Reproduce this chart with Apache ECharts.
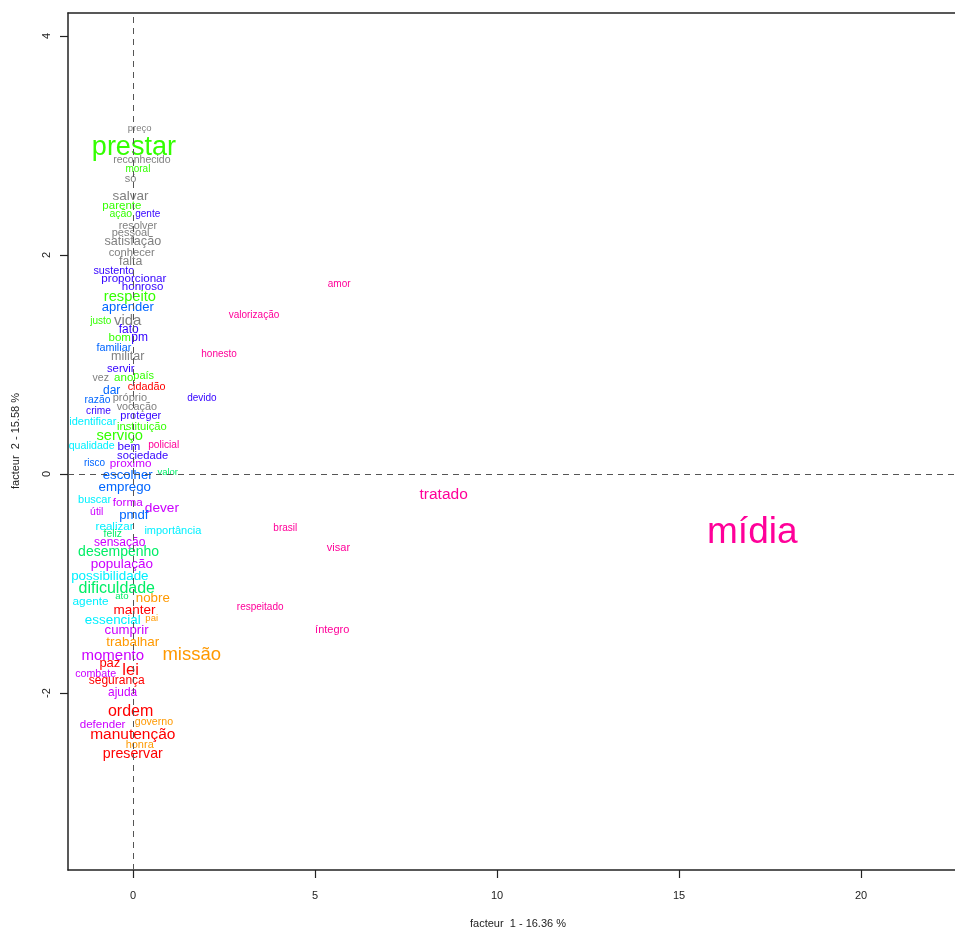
<!DOCTYPE html>
<html>
<head>
<meta charset="utf-8">
<script src="https://cdn.jsdelivr.net/npm/echarts@6/dist/echarts.min.js"></script>
<style>
html,body{margin:0;padding:0;background:#fff;}
#chart{width:955px;height:931px;}
</style>
</head>
<body>
<div id="chart"></div>
<script>
// ---- data ----
const words = ["preço","prestar","reconhecido","moral","só","salvar","parente","ação","gente","resolver",
"pessoal","satisfação","conhecer","falta","sustento","proporcionar","honroso","respeito","aprender","justo",
"vida","fato","bom","pm","familiar","militar","servir","vez","ano","país",
"cidadão","dar","razão","próprio","crime","vocação","devido","proteger","identificar","instituição",
"serviço","qualidade","bem","policial","sociedade","risco","proximo","escolher","valor","emprego",
"buscar","forma","dever","útil","pmdf","realizar","importância","feliz","sensação","desempenho",
"população","possibilidade","dificuldade","agente","ato","nobre","manter","pai","essencial","cumprir",
"trabalhar","missão","momento","paz","lei","combate","segurança","ajuda","ordem","defender",
"governo","manutenção","honra","preservar","amor","valorização","honesto","tratado","brasil","visar",
"respeitado","íntegro","mídia"];
const factor1 = [0.18,0.02,0.24,0.13,-0.07,-0.07,-0.31,-0.34,0.40,0.13,
-0.07,-0.01,-0.04,-0.07,-0.53,0.02,0.26,-0.09,-0.15,-0.89,
-0.15,-0.12,-0.37,0.18,-0.53,-0.15,-0.34,-0.89,-0.26,0.29,
0.37,-0.59,-0.98,-0.09,-0.95,0.10,1.89,0.21,-1.11,0.24,
-0.37,-1.14,-0.12,0.84,0.26,-1.06,-0.07,-0.15,0.95,-0.23,
-1.06,-0.15,0.79,-1.00,0.02,-0.51,1.09,-0.56,-0.37,-0.40,
-0.31,-0.64,-0.45,-1.17,-0.31,0.54,0.04,0.51,-0.56,-0.18,
-0.01,1.61,-0.56,-0.64,-0.07,-1.03,-0.45,-0.29,-0.07,-0.84,
0.57,-0.01,0.18,-0.01,5.66,3.32,2.36,8.53,4.18,5.64,
3.49,5.47,17.01];
const factor2 = [3.16,3.00,2.87,2.79,2.70,2.55,2.46,2.38,2.38,2.27,
2.21,2.13,2.03,1.95,1.86,1.79,1.72,1.63,1.53,1.40,
1.41,1.33,1.25,1.25,1.16,1.08,0.97,0.88,0.89,0.90,
0.80,0.77,0.68,0.70,0.58,0.62,0.70,0.54,0.48,0.44,
0.36,0.26,0.26,0.27,0.17,0.11,0.10,0.00,0.02,-0.11,
-0.23,-0.25,-0.30,-0.34,-0.37,-0.47,-0.51,-0.54,-0.62,-0.70,
-0.81,-0.92,-1.03,-1.16,-1.11,-1.13,-1.23,-1.31,-1.33,-1.42,
-1.53,-1.64,-1.65,-1.72,-1.78,-1.82,-1.88,-1.99,-2.16,-2.28,
-2.26,-2.37,-2.47,-2.55,1.74,1.46,1.10,-0.18,-0.49,-0.67,
-1.21,-1.42,-0.51];
// relative text size (cex-like weight)
const weight = [0.95,2.7,1.05,1.0,1.1,1.35,1.15,1.05,1.0,1.08,
1.1,1.26,1.12,1.23,1.08,1.16,1.15,1.47,1.3,1.0,
1.5,1.2,1.15,1.2,1.08,1.25,1.13,1.05,1.15,1.1,
1.08,1.2,1.03,1.1,1.02,1.08,1.0,1.1,1.1,1.12,
1.47,1.06,1.17,1.02,1.12,1.0,1.17,1.32,0.95,1.33,
1.1,1.17,1.37,1.04,1.32,1.16,1.1,1.03,1.2,1.4,
1.35,1.34,1.6,1.18,0.96,1.33,1.35,0.95,1.34,1.32,
1.34,1.85,1.5,1.3,1.65,1.07,1.2,1.19,1.6,1.16,
1.06,1.55,1.1,1.42,1.0,1.0,1.0,1.55,1.0,1.1,
1.0,1.1,3.7];
// class of each word
const wordClass = [0,3,0,3,0,0,3,3,7,0,
0,0,0,0,7,7,7,3,6,3,
0,7,3,7,6,0,7,0,3,3,
1,6,6,0,7,0,7,7,5,3,
3,5,7,9,7,6,8,6,4,6,
5,8,8,8,6,5,5,4,8,4,
8,5,4,5,4,2,1,2,5,8,
2,2,8,1,1,8,1,8,1,8,
2,1,2,1,9,9,9,9,9,9,
9,9,9];
const xTicks = [0,5,10,15,20];
const yTicks = [-2,0,2,4];
const xTitle = "facteur  1 - 16.36 %";
const yTitle = "facteur  2 - 15.58 %";

// ---- styles ----
const classColors = ["#808080","#FF0000","#FF9900","#33FF00","#00EE66","#00F0FF","#0066FF","#3300FF","#CC00FF","#FF0099"];
const FONT = "'Liberation Sans', Arial, Helvetica, sans-serif";
const FRAME = {color:'#222', width:1.5};

const chart = echarts.init(document.getElementById('chart'), null, {renderer:'canvas'});
const points = factor1.map((x,i)=>[x, factor2[i]]);

chart.setOption({
  animation:false,
  backgroundColor:'#fff',
  grid:{left:68, top:13, right:0, bottom:61, show:false},
  xAxis:[{type:'value', min:-1.79, max:22.58, position:'bottom',
    axisLine:{show:true, onZero:false, lineStyle:FRAME},
    axisTick:{show:true, inside:false, length:8, customValues:xTicks, lineStyle:{color:'#222', width:1.2}},
    axisLabel:{show:true, customValues:xTicks, margin:20, fontSize:11, color:'#222', fontFamily:FONT},
    splitLine:{show:false}},
   {type:'value', min:-1.79, max:22.58, position:'top',
    axisLine:{show:true, onZero:false, lineStyle:FRAME},
    axisTick:{show:false}, axisLabel:{show:false}, splitLine:{show:false}}],
  yAxis:{type:'value', min:-3.616, max:4.21, position:'left',
    axisLine:{show:true, onZero:false, lineStyle:FRAME},
    axisTick:{show:true, inside:false, length:8, customValues:yTicks, lineStyle:{color:'#222', width:1.2}},
    axisLabel:{show:true, customValues:yTicks, rotate:90, margin:16, fontSize:11, color:'#222', fontFamily:FONT},
    splitLine:{show:false}},
  graphic:[
    {type:'text', x:518, y:924, style:{text:xTitle, align:'center', verticalAlign:'middle', font:'11px '+FONT, fill:'#222'}},
    {type:'text', x:16, y:441, rotation:Math.PI/2, style:{text:yTitle, align:'center', verticalAlign:'middle', font:'11px '+FONT, fill:'#222'}}
  ],
  series:[{
    type:'custom',
    coordinateSystem:'cartesian2d',
    xAxisIndex:0, yAxisIndex:0,
    data:points,
    clip:false,
    renderItem:function(params, api){
      const i = params.dataIndex;
      const p = api.coord([api.value(0), api.value(1)]);
      const fs = Math.round(weight[i]*100)/10;
      return {type:'text', x:p[0], y:p[1] + fs*0.08, z2:1,
        style:{text:words[i], fontSize:fs, fontFamily:FONT,
          fill:classColors[wordClass[i]], align:'center', verticalAlign:'middle'}};
    },
    markLine:{silent:true, symbol:['none','none'], label:{show:false}, z:10,
      lineStyle:{color:'#555', type:[6,5], width:1},
      data:[{xAxis:0},{yAxis:0}]}
  }]
});
</script>
</body>
</html>
